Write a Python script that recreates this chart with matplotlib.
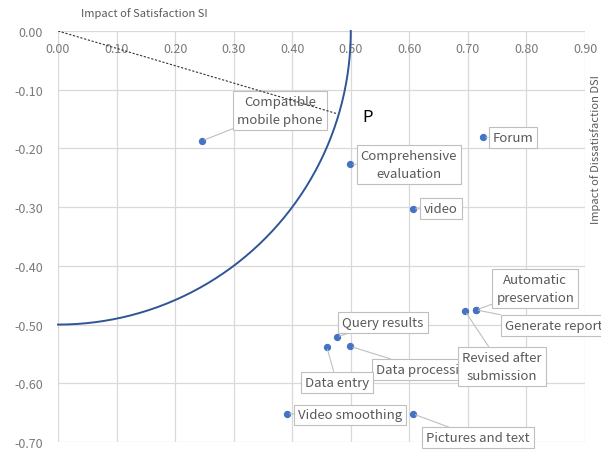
import numpy as np
import matplotlib
matplotlib.use("Agg")
import matplotlib.pyplot as plt

plt.rcParams['font.family'] = ['Noto Sans CJK SC', 'DejaVu Sans']

# ---- data ----
labels = ["Compatible\nmobile phone", "Comprehensive\nevaluation", "Forum", "video",
          "Automatic\npreservation", "Generate report", "Revised after\nsubmission",
          "Query results", "Data processing", "Data entry", "Video smoothing",
          "Pictures and text"]
si = [0.246, 0.499, 0.726, 0.606, 0.714, 0.714, 0.695, 0.476, 0.499, 0.459, 0.391, 0.606]
dsi = [-0.187, -0.227, -0.181, -0.303, -0.475, -0.475, -0.477, -0.521, -0.537, -0.538, -0.652, -0.652]
x_ticks = [0.0, 0.1, 0.2, 0.3, 0.4, 0.5, 0.6, 0.7, 0.8, 0.9]
y_ticks = [0.0, -0.1, -0.2, -0.3, -0.4, -0.5, -0.6, -0.7]
radius = 0.5
p_point = (0.477, -0.141)

# ---- label layout (positions of callouts) ----
label_pos = [(0.379, -0.135), (0.599, -0.228), (0.777, -0.182), (0.654, -0.303),
             (0.815, -0.439), (0.763, -0.501), (0.758, -0.571), (0.555, -0.496),
             (0.543, -0.577), (0.476, -0.598), (0.499, -0.654), (0.717, -0.693)]
label_ha = ['center', 'center', 'center', 'center', 'center', 'left', 'center',
            'center', 'left', 'center', 'center', 'center']
order = [0, 1, 2, 3, 4, 5, 7, 8, 9, 6, 10, 11]

fig = plt.figure(figsize=(6.01, 4.52), dpi=100)
ax = fig.add_axes([58/601, 1-443/452, 527/601, 411/452])
ax.set_xlim(0, 0.9)
ax.set_ylim(-0.7, 0.0)

grid_c = '#d9d9d9'
for xt in x_ticks:
    ax.axvline(xt, color=grid_c, lw=0.9, zorder=0)
for yt in y_ticks:
    ax.axhline(yt, color=grid_c, lw=0.9, zorder=0)
for s in ax.spines.values():
    s.set_visible(False)

ax.set_xticks(x_ticks)
ax.set_yticks(y_ticks)
ax.xaxis.tick_top()
ax.set_xticklabels([f"{v:.2f}" for v in x_ticks])
ax.set_yticklabels([f"{v:.2f}" for v in y_ticks])
ax.tick_params(axis='x', length=0, pad=-17, labelsize=9, labelcolor='#7a7a7a')
ax.tick_params(axis='y', length=0, pad=11, labelsize=9, labelcolor='#7a7a7a')

# quarter circle
t = np.linspace(0, np.pi/2, 200)
ax.plot(radius*np.sin(t), -radius*np.cos(t), color='#2F5597', lw=1.4, zorder=2, clip_on=False)
# dashed line to P
ax.plot([0, p_point[0]], [0, p_point[1]], color='#333333', lw=0.8, ls=(0, (2, 1.5)), zorder=20)
ax.text(p_point[0] + 0.042, p_point[1] - 0.004, "P", fontsize=12, color='black', va='center', ha='left')

ax.scatter(si, dsi, s=18, color='#4472C4', zorder=4, clip_on=False)

for k, i in enumerate(order):
    ax.annotate(labels[i], xy=(si[i], dsi[i]), xytext=label_pos[i],
                ha=label_ha[i], va='center', fontsize=9.5, color='#595959',
                linespacing=1.5, annotation_clip=False, zorder=5 + k*0.01,
                bbox=dict(boxstyle='square,pad=0.3', fc='white', ec='#bfbfbf', lw=0.8),
                arrowprops=dict(arrowstyle='-', color='#bfbfbf', lw=0.8, shrinkA=0, shrinkB=2))

fig.text(144/601, 1-14/452, "Impact of Satisfaction SI", fontsize=8, color='#595959', ha='center', va='center')
fig.text(596/601, 1-150/452, "Impact of Dissatisfaction DSI", fontsize=8, color='#595959',
         ha='center', va='center', rotation=90)

fig.savefig("out.png", dpi=100)
